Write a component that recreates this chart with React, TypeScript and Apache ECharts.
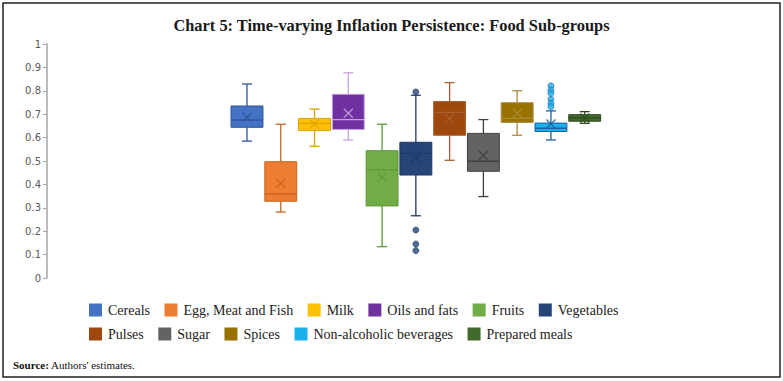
import React, { useEffect, useRef } from "react";
import * as echarts from "echarts";

const categories = [
  "Cereals",
  "Egg, Meat and Fish",
  "Milk",
  "Oils and fats",
  "Fruits",
  "Vegetables",
  "Pulses",
  "Sugar",
  "Spices",
  "Non-alcoholic beverages",
  "Prepared meals",
];

// values
const lowerWhisker = [0.585, 0.282, 0.563, 0.59, 0.134, 0.266, 0.503, 0.348, 0.61, 0.59, 0.661];
const q1 = [0.644, 0.328, 0.63, 0.635, 0.308, 0.44, 0.61, 0.456, 0.665, 0.626, 0.67];
const median = [0.675, 0.359, 0.661, 0.677, 0.462, 0.533, 0.708, 0.499, 0.682, 0.64, 0.684];
const q3 = [0.735, 0.497, 0.682, 0.785, 0.544, 0.58, 0.754, 0.618, 0.749, 0.662, 0.698];
const upperWhisker = [0.829, 0.657, 0.722, 0.877, 0.657, 0.781, 0.835, 0.677, 0.8, 0.714, 0.711];
const mean = [0.687, 0.405, 0.658, 0.704, 0.43, 0.516, 0.682, 0.523, 0.704, 0.658, 0.684];

const vegetableOutliers = [0.795, 0.205, 0.145, 0.117];
const beverageOutliers = [0.821, 0.803, 0.789, 0.764, 0.746, 0.732];

const yTickLabels = ["0", "0.1", "0.2", "0.3", "0.4", "0.5", "0.6", "0.7", "0.8", "0.9", "1"];

const fillColors = [
  "#4472C4", "#ED7D31", "#FFC000", "#7030A0", "#70AD47", "#264478",
  "#9E480E", "#636363", "#997300", "#19B0EC", "#43682B",
];
const lineColors = [
  "#2F5597", "#C9651F", "#D9A300", "#C9A3DF", "#5E9A3A", "#1F3864",
  "#A8602E", "#404040", "#A88C3A", "#1F5FA0", "#2E4A1E",
];

export default function App() {
  const ref = useRef<HTMLDivElement>(null);
  useEffect(() => {
    if (!ref.current) return;
    const chart = echarts.init(ref.current, null, { renderer: "svg" });

    const boxSeries = categories.map((name, i) => ({
      type: "custom",
      name,
      itemStyle: { color: fillColors[i] },
      encode: { x: 0, y: [1, 2, 3, 4, 5, 6] },
      data: [[i, lowerWhisker[i], q1[i], median[i], q3[i], upperWhisker[i], mean[i]]],
      z: 2,
      renderItem: (params: any, api: any) => {
        const x = api.value(0);
        const lo = api.coord([x, api.value(1)]);
        const b1 = api.coord([x, api.value(2)]);
        const md = api.coord([x, api.value(3)]);
        const b3 = api.coord([x, api.value(4)]);
        const hi = api.coord([x, api.value(5)]);
        const mn = api.coord([x, api.value(6)]);
        const bw = api.size([1, 0])[0] * 0.945;
        const cx = lo[0];
        const cap = 5;
        const xs = 4.5;
        const lc = lineColors[i];
        const ls = { stroke: lc, lineWidth: 1.3, fill: null };
        return {
          type: "group",
          children: [
            { type: "line", shape: { x1: cx, y1: b3[1], x2: cx, y2: hi[1] }, style: ls },
            { type: "line", shape: { x1: cx, y1: b1[1], x2: cx, y2: lo[1] }, style: ls },
            { type: "line", shape: { x1: cx - cap, y1: hi[1], x2: cx + cap, y2: hi[1] }, style: ls },
            { type: "line", shape: { x1: cx - cap, y1: lo[1], x2: cx + cap, y2: lo[1] }, style: ls },
            {
              type: "rect",
              shape: { x: cx - bw / 2, y: b3[1], width: bw, height: b1[1] - b3[1] },
              style: { fill: fillColors[i], stroke: lc, lineWidth: 1 },
            },
            { type: "line", shape: { x1: cx - bw / 2, y1: md[1], x2: cx + bw / 2, y2: md[1] }, style: ls },
            { type: "line", shape: { x1: cx - xs, y1: mn[1] - xs, x2: cx + xs, y2: mn[1] + xs }, style: { stroke: lc, lineWidth: 1.4, opacity: 0.85 } },
            { type: "line", shape: { x1: cx - xs, y1: mn[1] + xs, x2: cx + xs, y2: mn[1] - xs }, style: { stroke: lc, lineWidth: 1.4, opacity: 0.85 } },
          ],
        };
      },
    }));

    const outlierSeries = [
      {
        type: "scatter",
        name: "Vegetables outliers",
        symbol: "circle",
        symbolSize: 6,
        itemStyle: { color: fillColors[5], borderColor: lineColors[5], borderWidth: 0.8 },
        data: vegetableOutliers.map((v) => [5, v]),
        z: 3,
      },
      {
        type: "scatter",
        name: "Non-alcoholic beverages outliers",
        symbol: "circle",
        symbolSize: 6,
        itemStyle: { color: fillColors[9], borderColor: lineColors[9], borderWidth: 0.8 },
        data: beverageOutliers.map((v) => [9, v]),
        z: 3,
      },
    ];

    const legendCommon = {
      orient: "horizontal",
      icon: "rect",
      itemWidth: 13,
      itemHeight: 13,
      itemGap: 14.5,
      padding: 0,
      left: 89,
      textStyle: { fontFamily: "Liberation Serif", fontSize: 14, color: "#222", padding: [0, 0, 0, 1] },
      itemStyle: { borderWidth: 0 },
    };

    chart.setOption({
      animation: false,
      title: {
        text: "Chart 5: Time-varying Inflation Persistence: Food Sub-groups",
        left: "center",
        top: 12,
        textStyle: { fontFamily: "Liberation Serif", fontSize: 16.4, fontWeight: "bold", color: "#1a1a1a" },
      },
      grid: { left: 230.1, right: 181.4, top: 44, bottom: 103 },
      xAxis: {
        type: "category",
        data: categories,
        show: false,
      },
      yAxis: {
        type: "value",
        min: Number(yTickLabels[0]),
        max: Number(yTickLabels[yTickLabels.length - 1]),
        interval: 0.1,
        offset: 183.1,
        splitLine: { show: false },
        axisLine: { show: true, lineStyle: { color: "#A6A6A6", width: 1.5 } },
        axisTick: { show: true, length: 4, lineStyle: { color: "#A6A6A6", width: 1 } },
        axisLabel: {
          fontFamily: "DejaVu Sans",
          fontSize: 10,
          color: "#595959",
          margin: 6,
          formatter: (v: number) => yTickLabels[Math.round(v * 10)] ?? "",
        },
      },
      legend: [
        { ...legendCommon, top: 303, data: categories.slice(0, 6) },
        { ...legendCommon, top: 327, data: categories.slice(6) },
      ],
      graphic: [
        {
          type: "rect",
          shape: { x: 3, y: 3, width: 777, height: 374 },
          style: { fill: null, stroke: "#222", lineWidth: 1.5 },
          silent: true,
        },
        {
          type: "text",
          left: 13,
          top: 359,
          style: {
            text: "{b|Source:} Authors' estimates.",
            rich: {
              b: { fontFamily: "Liberation Serif", fontSize: 11, fontWeight: "bold", fill: "#111" },
            },
            fontFamily: "Liberation Serif",
            fontSize: 11,
            fill: "#111",
          },
        },
      ],
      series: [...boxSeries, ...outlierSeries],
    });
    return () => chart.dispose();
  }, []);
  return (
    <div
      ref={ref}
      style={{ position: "absolute", left: 0, top: 0, width: 783, height: 381, background: "#fff" }}
    />
  );
}
